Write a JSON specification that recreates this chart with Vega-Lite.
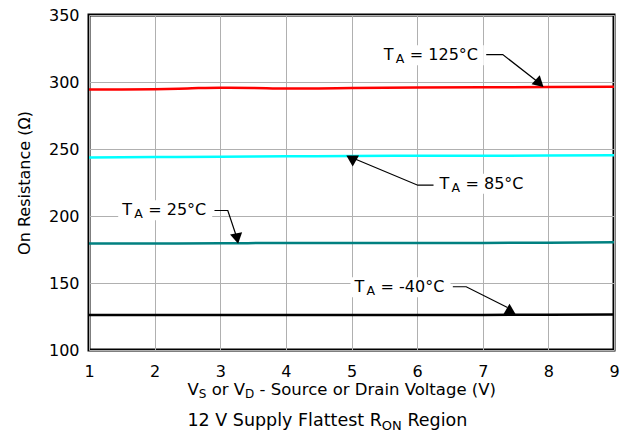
{
  "$schema": "https://vega.github.io/schema/vega-lite/v6.json",
  "width": 525,
  "height": 335,
  "autosize": {"type": "none"},
  "padding": {"left": 89, "top": 15, "right": 14, "bottom": 89},
  "background": "white",
  "config": {
    "font": "DejaVu Sans",
    "view": {"stroke": "black", "strokeWidth": 3},
    "axis": {
      "grid": true,
      "gridColor": "#b0b0b0",
      "gridWidth": 1,
      "domain": false,
      "ticks": false,
      "tickSize": 0,
      "labelFont": "DejaVu Sans",
      "labelFontSize": 16,
      "labelColor": "black",
      "labelFlush": false,
      "labelOverlap": false,
      "labelBound": false,
      "titleFont": "DejaVu Sans",
      "titleFontSize": 16,
      "titleFontWeight": "normal",
      "titleColor": "black"
    }
  },
  "datasets": {
    "curves": [
      {"T": "125", "V": 1, "R": 294.4}, {"T": "125", "V": 1.5, "R": 294.4}, {"T": "125", "V": 2, "R": 294.6}, {"T": "125", "V": 2.5, "R": 295.2}, {"T": "125", "V": 3, "R": 295.8}, {"T": "125", "V": 3.5, "R": 295.6}, {"T": "125", "V": 4, "R": 295.1}, {"T": "125", "V": 4.5, "R": 295.2}, {"T": "125", "V": 5, "R": 295.5}, {"T": "125", "V": 6, "R": 295.9}, {"T": "125", "V": 7, "R": 296.1}, {"T": "125", "V": 8, "R": 296.2}, {"T": "125", "V": 9, "R": 296.5},
      {"T": "85", "V": 1, "R": 243.7}, {"T": "85", "V": 2, "R": 244.0}, {"T": "85", "V": 3, "R": 244.3}, {"T": "85", "V": 4, "R": 244.5}, {"T": "85", "V": 5, "R": 244.8}, {"T": "85", "V": 6, "R": 244.9}, {"T": "85", "V": 7, "R": 245.0}, {"T": "85", "V": 8, "R": 245.1}, {"T": "85", "V": 9, "R": 245.3},
      {"T": "25", "V": 1, "R": 179.4}, {"T": "25", "V": 2, "R": 179.5}, {"T": "25", "V": 3, "R": 179.6}, {"T": "25", "V": 4, "R": 179.9}, {"T": "25", "V": 5, "R": 179.8}, {"T": "25", "V": 6, "R": 179.8}, {"T": "25", "V": 7, "R": 179.9}, {"T": "25", "V": 8, "R": 180.1}, {"T": "25", "V": 9, "R": 180.5},
      {"T": "-40", "V": 1, "R": 126.2}, {"T": "-40", "V": 2, "R": 126.2}, {"T": "-40", "V": 3, "R": 126.2}, {"T": "-40", "V": 4, "R": 126.1}, {"T": "-40", "V": 5, "R": 126.2}, {"T": "-40", "V": 6, "R": 126.2}, {"T": "-40", "V": 7, "R": 126.2}, {"T": "-40", "V": 8, "R": 126.3}, {"T": "-40", "V": 9, "R": 126.5}
    ],
    "leaders": [
      {"label": "125", "o": 0, "V": 7.053, "R": 320.5}, {"label": "125", "o": 1, "V": 7.305, "R": 320.5}, {"label": "125", "o": 2, "V": 7.866, "R": 299.0},
      {"label": "85", "o": 0, "V": 6.25, "R": 223.0}, {"label": "85", "o": 1, "V": 6.01, "R": 223.0}, {"label": "85", "o": 2, "V": 5.0, "R": 243.7},
      {"label": "25", "o": 0, "V": 2.912, "R": 204.1}, {"label": "25", "o": 1, "V": 3.115, "R": 204.1}, {"label": "25", "o": 2, "V": 3.257, "R": 183.2},
      {"label": "-40", "o": 0, "V": 6.544, "R": 147.2}, {"label": "-40", "o": 1, "V": 6.748, "R": 147.2}, {"label": "-40", "o": 2, "V": 7.377, "R": 131.7}
    ],
    "arrows": [
      {"label": "125", "V": 7.866, "R": 299.0},
      {"label": "85", "V": 5.018, "R": 241.1},
      {"label": "25", "V": 3.257, "R": 183.2},
      {"label": "-40", "V": 7.408, "R": 130.6}
    ],
    "labels": [
      {"label": "125", "V": 5.492, "V2": 6.955, "R": 316.3, "rest": "= 125°C"},
      {"label": "85", "V": 6.341, "V2": 7.651, "R": 220.3, "rest": "= 85°C"},
      {"label": "25", "V": 1.506, "V2": 2.817, "R": 200.6, "rest": "= 25°C"},
      {"label": "-40", "V": 5.046, "V2": 6.448, "R": 143.1, "rest": "= -40°C"}
    ],
    "titles": [
      {"name": "x", "V": 2.5, "R": 66.6},
      {"name": "c", "V": 2.5, "R": 43.1}
    ]
  },
  "encoding": {
    "x": {
      "field": "V",
      "type": "quantitative",
      "scale": {"domain": [1, 9], "nice": false, "zero": false},
      "axis": {"values": [1, 2, 3, 4, 5, 6, 7, 8, 9], "title": null, "labelPadding": 13.5}
    },
    "y": {
      "field": "R",
      "type": "quantitative",
      "scale": {"domain": [100, 350], "nice": false, "zero": false},
      "axis": {"values": [100, 150, 200, 250, 300, 350], "title": "On Resistance (Ω)", "labelPadding": 10, "titlePadding": 16}
    }
  },
  "layer": [
    {
      "data": {"name": "labels"},
      "mark": {"type": "rect", "color": "white", "opacity": 1, "xOffset": -4, "x2Offset": 4, "yOffset": 5, "y2Offset": -15},
      "encoding": {"x2": {"field": "V2"}, "y2": {"field": "R"}}
    },
    {
      "data": {"name": "curves"},
      "mark": {"type": "line", "strokeWidth": 2.5, "interpolate": "monotone"},
      "encoding": {
        "color": {"field": "T", "type": "nominal", "scale": {"domain": ["125", "85", "25", "-40"], "range": ["#ff0000", "#00ffff", "#008080", "#000000"]}, "legend": null}
      }
    },
    {
      "data": {"name": "leaders"},
      "mark": {"type": "line", "color": "black", "strokeWidth": 1.2},
      "encoding": {"detail": {"field": "label"}, "order": {"field": "o", "type": "quantitative"}}
    },
    {
      "data": {"name": "arrows"},
      "transform": [{"filter": "datum.label === '125'"}],
      "mark": {"type": "point", "shape": "triangle-up", "angle": 132, "size": 150, "filled": true, "color": "black", "opacity": 1}
    },
    {
      "data": {"name": "arrows"},
      "transform": [{"filter": "datum.label === '85'"}],
      "mark": {"type": "point", "shape": "triangle-down", "angle": 0, "size": 160, "filled": true, "color": "black", "opacity": 1}
    },
    {
      "data": {"name": "arrows"},
      "transform": [{"filter": "datum.label === '25'"}],
      "mark": {"type": "point", "shape": "triangle-up", "angle": 169, "size": 150, "filled": true, "color": "black", "opacity": 1}
    },
    {
      "data": {"name": "arrows"},
      "transform": [{"filter": "datum.label === '-40'"}],
      "mark": {"type": "point", "shape": "triangle-up", "angle": 0, "size": 150, "filled": true, "color": "black", "opacity": 1}
    },
    {
      "data": {"name": "labels"},
      "mark": {"type": "text", "text": "T", "align": "left", "baseline": "alphabetic", "fontSize": 16, "fill": "black"}
    },
    {
      "data": {"name": "labels"},
      "mark": {"type": "text", "text": "A", "align": "left", "baseline": "alphabetic", "fontSize": 12.5, "dx": 12, "dy": 3, "fill": "black"}
    },
    {
      "data": {"name": "labels"},
      "mark": {"type": "text", "align": "left", "baseline": "alphabetic", "fontSize": 16, "dx": 26, "fill": "black"},
      "encoding": {"text": {"field": "rest"}}
    },
    {
      "data": {"name": "titles"},
      "transform": [{"filter": "datum.name === 'x'"}],
      "layer": [
        {"mark": {"type": "text", "text": "V", "align": "left", "baseline": "alphabetic", "fontSize": 16.5, "dx": 0, "fill": "black"}},
        {"mark": {"type": "text", "text": "S", "align": "left", "baseline": "alphabetic", "fontSize": 12, "dx": 11.3, "dy": 3, "fill": "black"}},
        {"mark": {"type": "text", "text": "or V", "align": "left", "baseline": "alphabetic", "fontSize": 16.5, "dx": 24.2, "fill": "black"}},
        {"mark": {"type": "text", "text": "D", "align": "left", "baseline": "alphabetic", "fontSize": 12, "dx": 57.6, "dy": 3, "fill": "black"}},
        {"mark": {"type": "text", "text": "- Source or Drain Voltage (V)", "align": "left", "baseline": "alphabetic", "fontSize": 16.5, "dx": 72.1, "fill": "black"}}
      ]
    },
    {
      "data": {"name": "titles"},
      "transform": [{"filter": "datum.name === 'c'"}],
      "layer": [
        {"mark": {"type": "text", "text": "12 V Supply Flattest R", "align": "left", "baseline": "alphabetic", "fontSize": 17.5, "dx": 0, "fill": "black"}},
        {"mark": {"type": "text", "text": "ON", "align": "left", "baseline": "alphabetic", "fontSize": 13, "dx": 194.4, "dy": 4, "fill": "black"}},
        {"mark": {"type": "text", "text": "Region", "align": "left", "baseline": "alphabetic", "fontSize": 17.5, "dx": 220, "fill": "black"}}
      ]
    }
  ]
}
